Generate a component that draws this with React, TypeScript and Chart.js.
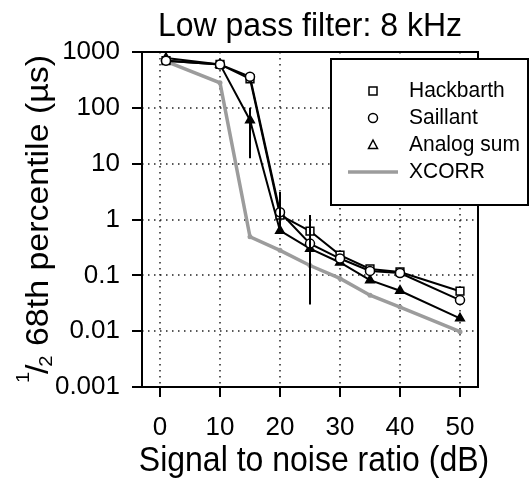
import React, { useEffect, useRef } from 'react';
import { Chart, registerables } from 'chart.js';

Chart.register(...registerables);

// ---------- data ----------
const snr = [1, 10, 15, 20, 25, 30, 35, 40, 50];
const hackbarth = [700, 600, 330, 1.2, 0.62, 0.23, 0.13, 0.115, 0.052];
const saillant = [700, 600, 360, 1.35, 0.37, 0.2, 0.12, 0.11, 0.036];
const analogSum = [780, 600, 60, 0.63, 0.3, 0.17, 0.082, 0.053, 0.017];
const xcorr = [680, 280, 0.49, 0.28, 0.15, 0.088, 0.044, 0.027, 0.0098];

const errX = [15, 20, 25];
const errLow = [12.5, 0.6, 0.03];
const errHigh = [100, 3.1, 1.2];

const xTickValues = [0, 10, 20, 30, 40, 50];
const yTickValues = [0.001, 0.01, 0.1, 1, 10, 100, 1000];
const yTickLabels = ['0.001', '0.01', '0.1', '1', '10', '100', '1000'];

const legendLabels = ['Hackbarth', 'Saillant', 'Analog sum', 'XCORR'];
const titleText = 'Low pass filter: 8 kHz';
const xTitleText = 'Signal to noise ratio (dB)';
const yTitleSup = '1';
const yTitleSlash = '/';
const yTitleSub = '2';
const yTitleMain = ' 68th percentile (µs)';

const FAMILY = '"Liberation Sans", Arial, Helvetica, sans-serif';
const GRAY = '#9c9c9c';

const decorPlugin = {
  id: 'decor',
  beforeDatasetsDraw(chart: any) {
    const { ctx, chartArea: a, scales } = chart;
    const xs = scales.x;
    const ys = scales.y;
    ctx.save();
    ctx.strokeStyle = '#222';
    ctx.lineWidth = 1.5;
    ctx.setLineDash([1.5, 4.5]);
    xTickValues.forEach((v) => {
      const px = Math.round(xs.getPixelForValue(v));
      ctx.beginPath();
      ctx.moveTo(px, a.top);
      ctx.lineTo(px, a.bottom);
      ctx.stroke();
    });
    yTickValues.forEach((v) => {
      const py = Math.round(ys.getPixelForValue(v));
      ctx.beginPath();
      ctx.moveTo(a.left, py);
      ctx.lineTo(a.right, py);
      ctx.stroke();
    });
    ctx.setLineDash([]);
    ctx.strokeStyle = '#000';
    ctx.lineWidth = 2;
    ctx.strokeRect(a.left, a.top, a.right - a.left, a.bottom - a.top);
    ctx.restore();
  },
  afterDatasetsDraw(chart: any) {
    const { ctx, scales } = chart;
    const xs = scales.x;
    const ys = scales.y;
    ctx.save();
    // error bars
    ctx.strokeStyle = '#000';
    ctx.lineWidth = 2;
    errX.forEach((v, i) => {
      const px = xs.getPixelForValue(v);
      ctx.beginPath();
      ctx.moveTo(px, ys.getPixelForValue(errHigh[i]));
      ctx.lineTo(px, ys.getPixelForValue(errLow[i]));
      ctx.stroke();
    });
    // legend box
    const bx = 331, by = 59, bw = 197, bh = 146;
    ctx.fillStyle = '#fff';
    ctx.fillRect(bx, by, bw, bh);
    ctx.strokeStyle = '#000';
    ctx.lineWidth = 2;
    ctx.strokeRect(bx, by, bw, bh);
    const rows = [91, 118, 145, 172];
    const sx = 373;
    ctx.lineWidth = 1.5;
    ctx.strokeRect(sx - 4, rows[0] - 4, 8, 8);
    ctx.beginPath();
    ctx.arc(sx, rows[1], 4.5, 0, Math.PI * 2);
    ctx.stroke();
    ctx.beginPath();
    ctx.moveTo(sx, rows[2] - 5);
    ctx.lineTo(sx + 4.5, rows[2] + 3.5);
    ctx.lineTo(sx - 4.5, rows[2] + 3.5);
    ctx.closePath();
    ctx.stroke();
    ctx.strokeStyle = GRAY;
    ctx.lineWidth = 3.5;
    ctx.beginPath();
    ctx.moveTo(348, rows[3]);
    ctx.lineTo(398, rows[3]);
    ctx.stroke();
    ctx.fillStyle = '#000';
    ctx.font = `21px ${FAMILY}`;
    ctx.textBaseline = 'middle';
    ctx.textAlign = 'left';
    legendLabels.forEach((t, i) => {
      ctx.save();
      ctx.translate(409, rows[i]);
      ctx.scale(1, 1.08);
      ctx.fillText(t, 0, 0);
      ctx.restore();
    });
    ctx.restore();
  },
  afterDraw(chart: any) {
    const { ctx, chartArea: a } = chart;
    ctx.save();
    ctx.fillStyle = '#000';
    ctx.textBaseline = 'alphabetic';
    // main title
    ctx.save();
    ctx.font = `32px ${FAMILY}`;
    ctx.textAlign = 'center';
    ctx.translate((a.left + a.right) / 2, 36);
    ctx.scale(1, 1.05);
    ctx.fillText(titleText, 0, 0);
    ctx.restore();
    // x title
    ctx.save();
    ctx.font = `32px ${FAMILY}`;
    ctx.textAlign = 'center';
    ctx.translate((a.left + a.right) / 2 + 4, 471);
    ctx.scale(1, 1.08);
    ctx.fillText(xTitleText, 0, 0);
    ctx.restore();
    // y title
    ctx.translate(48, 219);
    ctx.rotate(-Math.PI / 2);
    ctx.scale(1.06, 1);
    ctx.textAlign = 'left';
    const mainFont = `32px ${FAMILY}`;
    const smallFont = `19px ${FAMILY}`;
    ctx.font = smallFont;
    const w1 = ctx.measureText(yTitleSup).width;
    const w3 = ctx.measureText(yTitleSub).width;
    ctx.font = mainFont;
    const w2 = ctx.measureText(yTitleSlash).width;
    const w4 = ctx.measureText(yTitleMain).width;
    const total = w1 + w2 + w3 + w4 - 4;
    let x = -total / 2;
    ctx.font = smallFont;
    ctx.fillText(yTitleSup, x, -19);
    x += w1 - 2;
    ctx.font = mainFont;
    ctx.fillText(yTitleSlash, x, 0);
    x += w2 - 2;
    ctx.font = smallFont;
    ctx.fillText(yTitleSub, x, 4);
    x += w3;
    ctx.font = mainFont;
    ctx.fillText(yTitleMain, x, 0);
    ctx.restore();
  },
};

function pts(ys: number[]) {
  return snr.map((x, i) => ({ x, y: ys[i] }));
}

export default function App() {
  const ref = useRef<HTMLCanvasElement | null>(null);

  useEffect(() => {
    if (!ref.current) return;
    const chart = new Chart(ref.current, {
      type: 'line',
      data: {
        datasets: [
          {
            label: legendLabels[1],
            data: pts(saillant),
            borderColor: '#000',
            borderWidth: 2,
            pointStyle: 'circle',
            pointRadius: 4.5,
            pointBackgroundColor: '#fff',
            pointBorderColor: '#000',
            pointBorderWidth: 1.5,
          },
          {
            label: legendLabels[0],
            data: pts(hackbarth),
            borderColor: '#000',
            borderWidth: 2,
            pointStyle: 'rect',
            pointRadius: 5.5,
            pointBackgroundColor: '#fff',
            pointBorderColor: '#000',
            pointBorderWidth: 1.5,
          },
          {
            label: legendLabels[2],
            data: pts(analogSum),
            borderColor: '#000',
            borderWidth: 2,
            pointStyle: 'triangle',
            pointRadius: 5,
            pointBackgroundColor: '#000',
            pointBorderColor: '#000',
            pointBorderWidth: 1.5,
          },
          {
            label: legendLabels[3],
            data: pts(xcorr),
            borderColor: GRAY,
            borderWidth: 3.5,
            pointStyle: 'circle',
            pointRadius: 2.5,
            pointBackgroundColor: GRAY,
            pointBorderColor: GRAY,
            pointBorderWidth: 0,
          },
        ],
      },
      options: {
        animation: false,
        responsive: false,
        maintainAspectRatio: false,
        layout: { padding: { left: 0, top: 52, right: 54, bottom: 0 } },
        plugins: {
          legend: { display: false },
          title: { display: false },
          tooltip: { enabled: false },
        },
        scales: {
          x: {
            type: 'linear',
            min: -3,
            max: 53,
            afterBuildTicks: (axis: any) => {
              axis.ticks = xTickValues.map((v) => ({ value: v }));
            },
            afterFit: (s: any) => {
              s.height = 91;
            },
            grid: {
              drawOnChartArea: false,
              drawTicks: true,
              tickLength: 10,
              color: '#000',
              lineWidth: 2,
            },
            border: { display: false },
            ticks: {
              autoSkip: false,
              maxRotation: 0,
              color: '#000',
              padding: 15,
              font: { family: FAMILY, size: 26 },
              callback: (v: any) => String(v),
            },
          },
          y: {
            type: 'logarithmic',
            min: 0.001,
            max: 1000,
            afterBuildTicks: (axis: any) => {
              axis.ticks = yTickValues.map((v) => ({ value: v }));
            },
            afterFit: (s: any) => {
              s.width = 142;
            },
            grid: {
              drawOnChartArea: false,
              drawTicks: true,
              tickLength: 10,
              color: '#000',
              lineWidth: 2,
            },
            border: { display: false },
            ticks: {
              autoSkip: false,
              color: '#000',
              padding: 12,
              font: { family: FAMILY, size: 26 },
              callback: (v: any) => {
                const i = yTickValues.indexOf(Number(v));
                return i >= 0 ? yTickLabels[i] : '';
              },
            },
          },
        },
      },
      plugins: [decorPlugin],
    });
    return () => chart.destroy();
  }, []);

  return (
    <div style={{ position: 'absolute', left: 0, top: 0, width: 532, height: 478, background: '#fff' }}>
      <canvas ref={ref} width={532} height={478} style={{ display: 'block' }} />
    </div>
  );
}
